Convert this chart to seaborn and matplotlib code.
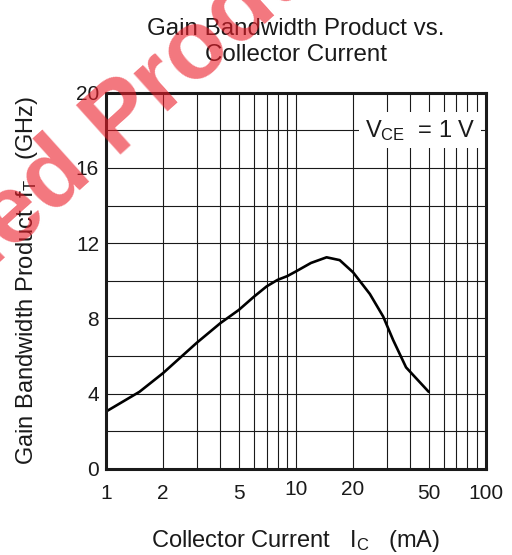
import matplotlib
matplotlib.use('Agg')
import numpy as np
import matplotlib.pyplot as plt
import matplotlib.ticker as mticker
from matplotlib.transforms import ScaledTranslation
import seaborn as sns

# collector current (mA) and fT (GHz)
ic_ma = [1, 1.5, 2, 3, 4, 5, 6, 7, 8, 9, 10, 12, 14.5, 17, 20, 24.5, 28.8, 32.5, 38, 50]
ft_ghz = [3.05, 4.1, 5.1, 6.7, 7.75, 8.45, 9.15, 9.7, 10.05, 10.25, 10.5, 10.95, 11.25, 11.1,
          10.45, 9.3, 8.1, 6.85, 5.4, 4.1]

x_ticks = [1, 2, 5, 10, 20, 50, 100]
x_ticklabels = ['1', '2', '5', '10', '20', '50', '100']
x_minor = [3, 4, 6, 7, 8, 9, 30, 40, 60, 70, 80, 90]

sns.set_style('white')
plt.rcParams['font.family'] = ['Liberation Sans', 'DejaVu Sans']
plt.rcParams['mathtext.fontset'] = 'custom'
plt.rcParams['mathtext.rm'] = 'Liberation Sans'
plt.rcParams['mathtext.it'] = 'Liberation Sans:italic'

fig = plt.figure(figsize=(5.12, 5.55), dpi=100)
ax = fig.add_axes([0.207, 0.155, 0.742, 0.678])

sns.lineplot(x=ic_ma, y=ft_ghz, color='black', lw=1.9, ax=ax)

ax.set_xscale('log')
ax.set_xlim(1, 100)
ax.set_ylim(0, 20)
ax.xaxis.set_major_locator(mticker.FixedLocator(x_ticks))
ax.xaxis.set_major_formatter(mticker.FixedFormatter(x_ticklabels))
ax.xaxis.set_minor_locator(mticker.FixedLocator(x_minor))
ax.xaxis.set_minor_formatter(mticker.NullFormatter())
ax.yaxis.set_major_locator(mticker.MultipleLocator(4))
ax.yaxis.set_minor_locator(mticker.MultipleLocator(2))
ax.grid(which='both', color='#1a1a1a', lw=0.8)
ax.tick_params(which='both', length=0, labelsize=15, colors='#1a1a1a')
ax.tick_params(axis='x', pad=11)
ax.tick_params(axis='y', pad=5)
for sp in ax.spines.values():
    sp.set_visible(True)
    sp.set_color('#1a1a1a')
    sp.set_linewidth(2.2)

# "10" and "20" sit a bit higher in the original
for lab in ax.get_xticklabels():
    if lab.get_text() in ('10', '20'):
        lab.set_transform(lab.get_transform() + ScaledTranslation(0, 3 / 72, fig.dpi_scale_trans))

ax.text(88, 18, r'V$_{\mathrm{CE}}$  = 1 V', ha='right', va='center', fontsize=17,
        color='#1a1a1a', bbox=dict(facecolor='white', edgecolor='none', pad=4))

ax.set_title('Gain Bandwidth Product vs.\nCollector Current', fontsize=17.4, pad=23, color='#1a1a1a')
ax.set_xlabel(r'Collector Current   I$_{\mathrm{C}}$   (mA)', fontsize=17, labelpad=18, color='#1a1a1a')
ax.set_ylabel(r'Gain Bandwidth Product  f$_{\mathrm{T}}$   (GHz)', fontsize=17, labelpad=26, color='#1a1a1a')

# translucent red watermark laid over the chart
angle = 42
wm_size = 70
wm = dict(fontsize=wm_size, fontweight='bold', color='#ec1c28', alpha=0.6, rotation=angle,
          rotation_mode='anchor', va='baseline', zorder=10)
anchor = (0.222, 0.722)
fig.text(anchor[0], anchor[1], 'Product', ha='left', **wm)
gap = 0.278 * wm_size / 72  # one space, in inches
shift = ScaledTranslation(-gap * np.cos(np.radians(angle)), -gap * np.sin(np.radians(angle)),
                          fig.dpi_scale_trans)
fig.text(anchor[0], anchor[1], 'Discontinued', ha='right', transform=fig.transFigure + shift, **wm)

fig.savefig('out.png', dpi=100)
